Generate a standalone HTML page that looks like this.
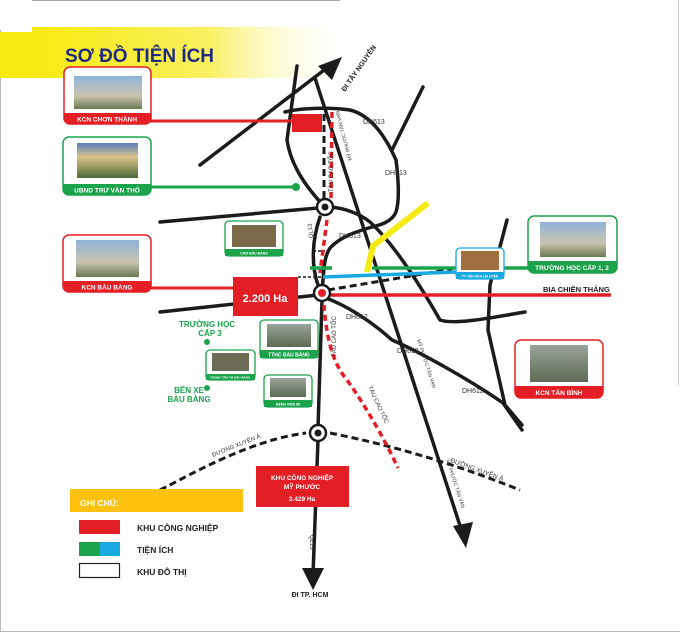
<!DOCTYPE html>
<html><head><meta charset="utf-8"><style>
html,body{margin:0;padding:0;background:#fff}
svg{display:block}
text{font-family:"Liberation Sans",sans-serif;font-weight:bold}
</style></head><body>
<svg width="680" height="632" viewBox="0 0 680 632" xmlns="http://www.w3.org/2000/svg">
<defs>
<linearGradient id="yg" x1="0" x2="1" y1="0" y2="0">
<stop offset="0" stop-color="#f7ea10"/><stop offset="0.55" stop-color="#f9f060"/><stop offset="1" stop-color="#fff" stop-opacity="0"/>
</linearGradient>
<linearGradient id="sky" x1="0" x2="0" y1="0" y2="1"><stop offset="0" stop-color="#8fb4d8"/><stop offset="0.6" stop-color="#c9c3b0"/><stop offset="1" stop-color="#6b7a52"/></linearGradient>
<linearGradient id="bld" x1="0" x2="0" y1="0" y2="1"><stop offset="0" stop-color="#5a7fc0"/><stop offset="0.4" stop-color="#d9c48a"/><stop offset="1" stop-color="#4d6a36"/></linearGradient>
<linearGradient id="gr" x1="0" x2="0" y1="0" y2="1"><stop offset="0" stop-color="#9aa39a"/><stop offset="1" stop-color="#5e6a55"/></linearGradient>
</defs>
<rect x="0" y="0" width="680" height="632" fill="#fff"/>
<line x1="32" y1="0.5" x2="340" y2="0.5" stroke="#aaa"/>
<line x1="0.5" y1="30" x2="0.5" y2="632" stroke="#bbb"/>
<line x1="0" y1="631.5" x2="680" y2="631.5" stroke="#bbb"/>
<line x1="678.5" y1="0" x2="678.5" y2="385" stroke="#ccc"/>
<!-- banner -->
<rect x="0" y="32" width="34" height="46" fill="#f7ea10"/>
<rect x="32" y="27" width="320" height="51" fill="url(#yg)"/>
<text x="65" y="62" font-size="19" fill="#1f2a80" textLength="149" lengthAdjust="spacingAndGlyphs">SƠ ĐỒ TIỆN ÍCH</text>

<!-- roads -->
<g fill="none" stroke="#1b1b1b" stroke-width="3.5" stroke-linecap="round" stroke-linejoin="round">
<path d="M200 165 L332 64"/>
<path d="M297 66 L287 140 C290 160 300 180 322 204"/>
<path d="M315 78 L463 535"/>
<path d="M285 112 C300 108 330 107 350 110 C370 115 385 135 396 160 C398 175 400 200 396 212 C392 222 380 225 372 227 C355 232 340 237 330 248 C323 258 324 275 322 290"/>
<path d="M423 87 L392 150"/>
<path d="M160 222 L318 208"/>
<path d="M330 207 C345 208 360 214 370 222 C395 245 420 285 440 320 C455 325 490 318 525 312"/>
<path d="M507 220 L490 285 L488 330 L505 405 L522 425"/>
<path d="M320 217 C312 240 311 265 318 285"/>
<path d="M326 298 C345 305 370 320 392 340 C420 352 470 380 503 403 L522 430"/>
<path d="M160 312 L318 295"/>
<path d="M322 300 L318 428 M318 440 L313 575"/>
</g>
<!-- arrows -->
<polygon points="342,57 318,66 332,80" fill="#1b1b1b"/>
<polygon points="313,590 302,568 324,568" fill="#1b1b1b"/>
<polygon points="466,548 453,526 473,522" fill="#1b1b1b"/>
<!-- dashed black -->
<g fill="none" stroke="#1b1b1b" stroke-width="3" stroke-dasharray="7 4">
<path d="M324 114 L324 200"/>
<path d="M313 251 L325 251" stroke-width="1.5" stroke-dasharray="3 2"/>
<path d="M298 277 L323 277" stroke-width="1.5" stroke-dasharray="3 2"/>
<path d="M328 290 L452 269"/>
<path d="M160 490 C190 475 250 440 306 433 M330 433 C390 445 450 462 520 490"/>
</g>
<!-- red dashed rail -->
<path d="M332 112 L331 200 M327 220 L320 273 M324 305 C326 330 330 360 347 380 C365 405 385 440 398 468" fill="none" stroke="#e31e24" stroke-width="3.5" stroke-dasharray="6 4"/>
<!-- coloured lines -->
<line x1="323" y1="277" x2="456" y2="272" stroke="#1aa8e0" stroke-width="3.5"/>
<line x1="372" y1="268" x2="530" y2="268" stroke="#1aa34a" stroke-width="3.5"/>
<line x1="310" y1="268" x2="332" y2="268" stroke="#1aa34a" stroke-width="3.5"/>
<polyline points="428,203 373,246 367,272" fill="none" stroke="#f5ea14" stroke-width="6"/>
<line x1="322" y1="295" x2="611" y2="295" stroke="#e31e24" stroke-width="3.5"/>
<line x1="150" y1="121" x2="292" y2="121" stroke="#e31e24" stroke-width="3"/>
<rect x="292" y="114" width="30" height="18" fill="#e31e24"/>
<line x1="150" y1="187" x2="296" y2="187" stroke="#1aa34a" stroke-width="3"/>
<circle cx="296" cy="187" r="4" fill="#1aa34a"/>
<line x1="150" y1="288" x2="234" y2="288" stroke="#e31e24" stroke-width="3"/>
<rect x="233" y="277" width="65" height="39" fill="#e31e24"/>
<text x="265" y="302" font-size="11" fill="#fff" text-anchor="middle">2.200 Ha</text>

<!-- roundabouts -->
<circle cx="325" cy="207" r="8" fill="#fff" stroke="#1b1b1b" stroke-width="2.5"/><circle cx="325" cy="207" r="3.5" fill="#1b1b1b"/>
<circle cx="322" cy="293" r="8" fill="#fff" stroke="#1b1b1b" stroke-width="2.5"/><circle cx="322" cy="293" r="4" fill="#e31e24"/>
<circle cx="318" cy="433" r="8" fill="#fff" stroke="#1b1b1b" stroke-width="2.5"/><circle cx="318" cy="433" r="3.5" fill="#1b1b1b"/>

<!-- boxes -->
<g>
<rect x="64" y="67" width="87" height="57" rx="6" fill="#fff" stroke="#e31e24" stroke-width="1.5"/>
<rect x="74" y="76" width="68" height="33" fill="url(#sky)"/>
<path d="M64 113 H151 V118 Q151 124 145 124 H70 Q64 124 64 118 Z" fill="#e31e24"/>
<text x="107" y="121.5" font-size="6.5" fill="#fff" text-anchor="middle">KCN CHƠN THÀNH</text>

<rect x="63" y="137" width="88" height="58" rx="6" fill="#fff" stroke="#1aa34a" stroke-width="1.5"/>
<rect x="77" y="143" width="61" height="35" fill="url(#bld)"/>
<path d="M63 184 H151 V189 Q151 195 145 195 H69 Q63 195 63 189 Z" fill="#1aa34a"/>
<text x="107" y="192.5" font-size="6.5" fill="#fff" text-anchor="middle">UBND TRỪ VĂN THỐ</text>

<rect x="63" y="235" width="88" height="57" rx="6" fill="#fff" stroke="#e31e24" stroke-width="1.5"/>
<rect x="76" y="240" width="63" height="37" fill="url(#sky)"/>
<path d="M63 281 H151 V286 Q151 292 145 292 H69 Q63 292 63 286 Z" fill="#e31e24"/>
<text x="107" y="289.5" font-size="6.5" fill="#fff" text-anchor="middle">KCN BÀU BÀNG</text>

<rect x="225" y="221" width="58" height="35" rx="4" fill="#fff" stroke="#1aa34a" stroke-width="1.3"/>
<rect x="232" y="225" width="44" height="22" fill="#7a6a4a"/>
<rect x="225" y="249" width="58" height="7" fill="#1aa34a"/>
<text x="254" y="254.5" font-size="3.5" fill="#fff" text-anchor="middle">CHỢ BÀU BÀNG</text>

<rect x="528" y="216" width="89" height="57" rx="6" fill="#fff" stroke="#1aa34a" stroke-width="1.5"/>
<rect x="540" y="222" width="66" height="35" fill="url(#sky)"/>
<path d="M528 261 H617 V267 Q617 273 611 273 H534 Q528 273 528 267 Z" fill="#1aa34a"/>
<text x="572" y="270" font-size="6.5" fill="#fff" text-anchor="middle">TRƯỜNG HỌC CẤP 1, 2</text>

<rect x="456" y="248" width="48" height="31" rx="4" fill="#fff" stroke="#1aa8e0" stroke-width="1.3"/>
<rect x="461" y="251" width="38" height="19" fill="#a07040"/>
<rect x="456" y="272" width="48" height="7" fill="#1aa8e0"/>
<text x="480" y="277.5" font-size="3.3" fill="#fff" text-anchor="middle">TT VĂN HÓA LAI UYÊN</text>

<rect x="515" y="340" width="88" height="58" rx="6" fill="#fff" stroke="#e31e24" stroke-width="1.5"/>
<rect x="530" y="345" width="58" height="37" fill="url(#gr)"/>
<path d="M515 386 H603 V392 Q603 398 597 398 H521 Q515 398 515 392 Z" fill="#e31e24"/>
<text x="559" y="395" font-size="6.5" fill="#fff" text-anchor="middle">KCN TÂN BÌNH</text>

<rect x="260" y="320" width="58" height="38" rx="4" fill="#fff" stroke="#1aa34a" stroke-width="1.3"/>
<rect x="267" y="324" width="44" height="23" fill="url(#gr)"/>
<rect x="260" y="350" width="58" height="8" fill="#1aa34a"/>
<text x="289" y="356.5" font-size="5" fill="#fff" text-anchor="middle">TTHC BÀU BÀNG</text>

<rect x="206" y="350" width="49" height="30" rx="4" fill="#fff" stroke="#1aa34a" stroke-width="1.3"/>
<rect x="212" y="353" width="37" height="18" fill="#6d6a55"/>
<rect x="206" y="374" width="49" height="6" fill="#1aa34a"/>
<text x="230" y="378.5" font-size="3" fill="#fff" text-anchor="middle">TRUNG TÂM TM BÀU BÀNG</text>

<rect x="264" y="375" width="48" height="32" rx="4" fill="#fff" stroke="#1aa34a" stroke-width="1.3"/>
<rect x="270" y="378" width="36" height="19" fill="url(#gr)"/>
<rect x="264" y="400" width="48" height="7" fill="#1aa34a"/>
<text x="288" y="405.5" font-size="3.5" fill="#fff" text-anchor="middle">BỆNH VIỆN 88</text>
</g>
<text x="207" y="327" font-size="8" fill="#1aa34a" text-anchor="middle">TRƯỜNG HỌC</text>
<text x="210" y="336" font-size="8" fill="#1aa34a" text-anchor="middle">CẤP 3</text>
<circle cx="207" cy="342" r="3" fill="#1aa34a"/>
<text x="189" y="393" font-size="8" fill="#1aa34a" text-anchor="middle">BẾN XE</text>
<text x="189" y="402" font-size="8" fill="#1aa34a" text-anchor="middle">BÀU BÀNG</text>
<circle cx="207" cy="388" r="3" fill="#1aa34a"/>

<text x="543" y="292" font-size="7.5" fill="#222">BIA CHIẾN THẮNG</text>

<!-- road labels -->
<g font-size="7" fill="#333">
<text x="363" y="124" style="font-weight:normal">DH613</text>
<text x="385" y="175" style="font-weight:normal">DH613</text>
<text x="339" y="238" style="font-weight:normal">DH613</text>
<text x="346" y="319" style="font-weight:normal">DH612</text>
<text x="397" y="353" style="font-weight:normal">DH612</text>
<text x="462" y="393" style="font-weight:normal">DH612</text>
<text transform="translate(333,192) rotate(-90)" font-size="6" style="font-weight:normal">TÀU CAO TỐC</text>
<text transform="translate(336,357) rotate(-90)" font-size="6" style="font-weight:normal">TÀU CAO TỐC</text>
<text transform="translate(368,387) rotate(65)" font-size="6" style="font-weight:normal">TÀU CAO TỐC</text>
<text transform="translate(352,160) rotate(-105)" font-size="5" style="font-weight:normal">MỸ PHƯỚC TÂN VẠN</text>
<text transform="translate(417,340) rotate(72)" font-size="5" style="font-weight:normal">MỸ PHƯỚC TÂN VẠN</text>
<text transform="translate(446,460) rotate(72)" font-size="5" style="font-weight:normal">MỸ PHƯỚC TÂN VẠN</text>
<text transform="translate(313,238) rotate(-95)" font-size="6" style="font-weight:normal">QL13</text>
<text transform="translate(310,535) rotate(90)" font-size="6" style="font-weight:normal">QL13</text>
<text transform="translate(213,457) rotate(-22)" font-size="6" style="font-weight:normal">ĐƯỜNG XUYÊN Á</text>
<text transform="translate(450,462) rotate(20)" font-size="6.5" style="font-weight:normal">ĐƯỜNG XUYÊN Á</text>
</g>
<text transform="translate(345,92) rotate(-55)" font-size="7" fill="#222">ĐI TÂY NGUYÊN</text>

<!-- KCN My Phuoc -->
<rect x="256" y="466" width="93" height="41" fill="#e31e24"/>
<text x="302" y="480" font-size="6.5" fill="#fff" text-anchor="middle">KHU CÔNG NGHIỆP</text>
<text x="302" y="489" font-size="6.5" fill="#fff" text-anchor="middle">MỸ PHƯỚC</text>
<text x="302" y="501" font-size="6.5" fill="#fff" text-anchor="middle">3.429 Ha</text>
<text x="310" y="597" font-size="7" fill="#222" text-anchor="middle">ĐI TP. HCM</text>

<!-- legend -->
<rect x="70" y="489" width="173" height="23" fill="#fcc20f"/>
<text x="80" y="506" font-size="8.5" fill="#fff">GHI CHÚ:</text>
<rect x="79" y="520" width="41" height="14" fill="#e31e24"/>
<rect x="79" y="542" width="21" height="14" fill="#1aa34a"/>
<rect x="100" y="542" width="20" height="14" fill="#1aa8e0"/>
<rect x="79.5" y="563.5" width="40" height="14" fill="#fff" stroke="#222" stroke-width="1.2"/>
<text x="137" y="531" font-size="8.5" fill="#222">KHU CÔNG NGHIỆP</text>
<text x="137" y="553" font-size="8.5" fill="#222">TIỆN ÍCH</text>
<text x="137" y="575" font-size="8.5" fill="#222">KHU ĐÔ THỊ</text>
</svg>
</body></html>
